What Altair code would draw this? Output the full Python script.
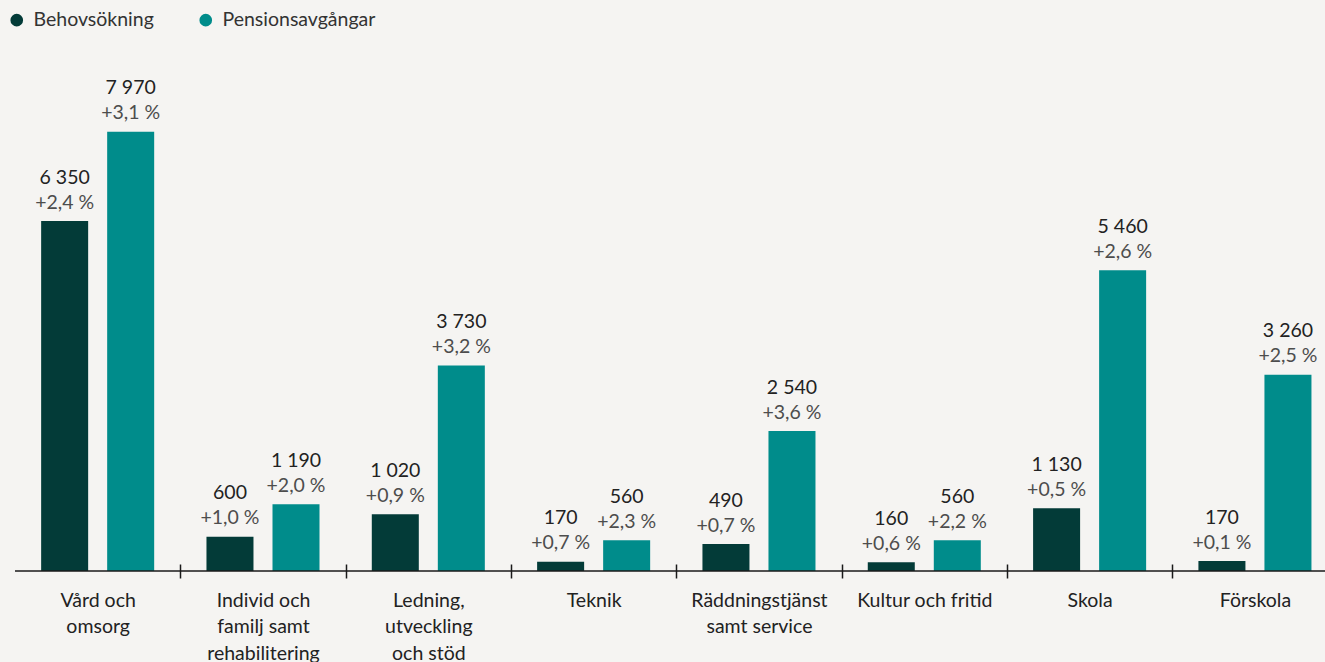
import altair as alt
import pandas as pd

categories = [
    "Vård och\nomsorg",
    "Individ och\nfamilj samt\nrehabilitering",
    "Ledning,\nutveckling\noch stöd",
    "Teknik",
    "Räddningstjänst\nsamt service",
    "Kultur och fritid",
    "Skola",
    "Förskola",
]
series = ["Behovsökning", "Pensionsavgångar"]
# bar heights as drawn in the picture
behov = [6350, 620, 1030, 170, 490, 160, 1140, 180]
pension = [7970, 1210, 3730, 560, 2540, 560, 5460, 3560]
# printed labels
behov_lbl = ["6 350", "600", "1 020", "170", "490", "160", "1 130", "170"]
behov_pct = ["+2,4 %", "+1,0 %", "+0,9 %", "+0,7 %", "+0,7 %", "+0,6 %", "+0,5 %", "+0,1 %"]
pension_lbl = ["7 970", "1 190", "3 730", "560", "2 540", "560", "5 460", "3 260"]
pension_pct = ["+3,1 %", "+2,0 %", "+3,2 %", "+2,3 %", "+3,6 %", "+2,2 %", "+2,6 %", "+2,5 %"]

rows = []
for i, c in enumerate(categories):
    rows.append({"cat": c, "serie": series[0], "value": behov[i],
                 "vlabel": behov_lbl[i], "plabel": behov_pct[i]})
    rows.append({"cat": c, "serie": series[1], "value": pension[i],
                 "vlabel": pension_lbl[i], "plabel": pension_pct[i]})
df = pd.DataFrame(rows)

FONT = "Lato"
BAND = 1322.6 / 8

x = alt.X(
    "cat:N",
    sort=categories,
    scale=alt.Scale(range=[0, 1322.6], paddingInner=0, paddingOuter=0),
    axis=alt.Axis(
        title=None,
        domain=False,
        offset=-7,
        tickSize=14,
        tickWidth=1.5,
        tickColor="#1a1a1a",
        tickOffset=BAND / 2,
        labelOffset=-BAND / 2,
        labelAngle=0,
        labelPadding=13,
        labelFont=FONT,
        labelFontSize=19.5,
        labelFontWeight=400,
        labelColor="#222222",
        labelLineHeight=26.5,
        labelBaseline="top",
        labelExpr="split(datum.label, '\\n')",
        labelLimit=400,
    ),
)
xoff = alt.XOffset("serie:N", sort=series,
                   scale=alt.Scale(paddingInner=0.288, paddingOuter=0.396))
y = alt.Y("value:Q", scale=alt.Scale(domain=[0, 10000]), axis=None)

color = alt.Color(
    "serie:N",
    sort=series,
    scale=alt.Scale(domain=series, range=["#033b38", "#008c8b"]),
    legend=alt.Legend(
        title=None,
        orient="none",
        legendX=-8,
        legendY=-10,
        direction="horizontal",
        symbolType="circle",
        symbolSize=160,
        symbolStrokeWidth=0,
        labelFont=FONT,
        labelFontSize=19.5,
        labelColor="#333333",
        labelOffset=7,
        columnPadding=42,
        padding=0,
    ),
)

base = alt.Chart(df)

bars = base.mark_bar().encode(x=x, xOffset=xoff, y=y, color=color)

vtext = base.mark_text(font=FONT, fontSize=19.5, fontWeight=400, color="#222222",
                       baseline="middle", dy=-43.5).encode(
    x=x, xOffset=xoff, y=y, text="vlabel:N")
ptext = base.mark_text(font=FONT, fontSize=19.5, fontWeight=400, color="#4d4d4d",
                       baseline="middle", dy=-18.5).encode(
    x=x, xOffset=xoff, y=y, text="plabel:N")

baseline = alt.Chart(pd.DataFrame({"v": [0]})).mark_rule(
    color="#1a1a1a", strokeWidth=1.6).encode(
    y=alt.Y("v:Q", scale=alt.Scale(domain=[0, 10000]), axis=None),
    x=alt.value(0), x2=alt.value(1310))

chart = alt.layer(bars, vtext, ptext, baseline).properties(
    width=1310,
    height=551,
    background="#f5f4f2",
    padding={"left": 15, "top": 20, "right": 0, "bottom": 91},
    autosize=alt.AutoSizeParams(type="none"),
).configure_view(stroke=None)

chart.save("out.html", embed_options={"renderer": "svg", "actions": False})
